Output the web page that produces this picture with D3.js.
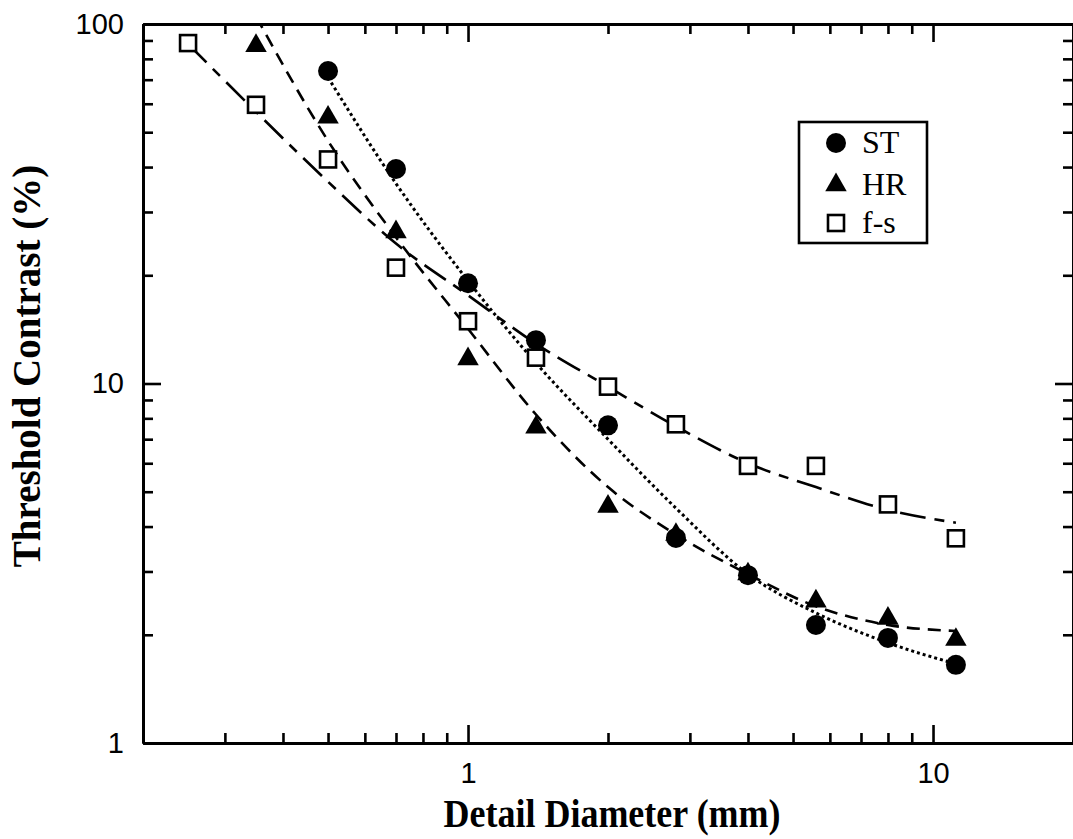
<!DOCTYPE html>
<html>
<head>
<meta charset="utf-8">
<script src="https://cdn.jsdelivr.net/npm/d3@7"></script>
<style>
  body { margin: 0; background: #fff; }
  svg { display: block; }
</style>
</head>
<body>
<div class="canvas"></div>
<script>
// values (Threshold contrast in %, diameter in mm)
var stDiam = [0.5, 0.7, 1.0, 1.4, 2.0, 2.8, 4.0, 5.6, 8.0, 11.2],
    stVals = [74, 39.5, 19, 13.2, 7.65, 3.72, 2.93, 2.13, 1.96, 1.65],
    stFit  = [71, 36, 19.3, 11.4, 7.0, 4.5, 2.95, 2.3, 1.9, 1.66];

var hrDiam = [0.35, 0.5, 0.7, 1.0, 1.4, 2.0, 2.8, 4.0, 5.6, 8.0, 11.2],
    hrVals = [87, 55, 26.4, 11.7, 7.55, 4.55, 3.8, 2.95, 2.48, 2.22, 1.94],
    hrFit  = [105, 47.3, 25.5, 14.2, 8.2, 5.15, 3.8, 2.95, 2.4, 2.13, 2.05];

var fsDiam = [0.25, 0.35, 0.5, 0.7, 1.0, 1.4, 2.0, 2.8, 4.0, 5.6, 8.0, 11.2],
    fsVals = [88.5, 59.6, 42, 21, 14.9, 11.8, 9.8, 7.7, 5.9, 5.9, 4.61, 3.71],
    fsFit  = [88, 57, 36.4, 24.5, 17.6, 12.9, 9.8, 7.6, 6.0, 5.15, 4.45, 4.1];

var seriesNames = ['ST', 'HR', 'f-s'];
var xMajor = [1, 10],
    yMajor = [1, 10, 100];
var xDomain = [0.2, 20],
    yDomain = [1, 100];

var width = 1073, height = 839,
    margin = {top: 24, right: 0, bottom: 96, left: 143},
    w = width - margin.left - margin.right,
    h = height - margin.top - margin.bottom;

var svg = d3.select('.canvas').append('svg')
    .attr('width', width)
    .attr('height', height);

var g = svg.append('g')
    .attr('transform', 'translate(' + margin.left + ',' + margin.top + ')');

var x = d3.scaleLog().domain(xDomain).range([0, w]),
    y = d3.scaleLog().domain(yDomain).range([h, 0]);

var xMinor = x.ticks().filter(function (d) { return xMajor.indexOf(d) < 0; }),
    yMinor = y.ticks().filter(function (d) { return yMajor.indexOf(d) < 0; });

var sans = '"Liberation Sans", Arial, sans-serif',
    serif = '"Liberation Serif", "Times New Roman", serif';

function styleAxis(sel) {
    sel.select('.domain').attr('stroke', '#000').attr('stroke-width', 3);
    sel.selectAll('.tick line').attr('stroke', '#000').attr('stroke-width', 2.6);
    sel.selectAll('.tick text')
        .attr('fill', '#000')
        .style('font-family', sans)
        .style('font-size', '29px');
}

// frame: ticks on all four sides pointing in
[
    {ax: d3.axisBottom(x), tr: 'translate(0,' + h + ')', minor: xMinor, major: xMajor, lab: true},
    {ax: d3.axisTop(x), tr: null, minor: xMinor, major: xMajor, lab: false},
    {ax: d3.axisLeft(y), tr: null, minor: yMinor, major: yMajor, lab: true},
    {ax: d3.axisRight(y), tr: 'translate(' + w + ',0)', minor: yMinor, major: yMajor, lab: false}
].forEach(function (a) {
    var gm = g.append('g').attr('transform', a.tr)
        .call(a.ax.tickValues(a.minor).tickSize(-10).tickSizeOuter(0).tickFormat(''));
    styleAxis(gm);
    var gM = g.append('g').attr('transform', a.tr)
        .call(a.ax.tickValues(a.major).tickSize(-18).tickSizeOuter(0)
            .tickPadding(19)
            .tickFormat(a.lab ? d3.format('d') : ''));
    styleAxis(gM);
});

// clip the fit curves to the plot box
svg.append('defs').append('clipPath').attr('id', 'plotclip')
    .append('rect').attr('width', w).attr('height', h);

var line = d3.line()
    .x(function (d) { return x(d[0]); })
    .y(function (d) { return y(d[1]); })
    .curve(d3.curveMonotoneX);

var series = [
    {name: seriesNames[0], diam: stDiam, vals: stVals, fit: stFit, dash: '3,3', width: 3, symbol: 'circle'},
    {name: seriesNames[1], diam: hrDiam, vals: hrVals, fit: hrFit, dash: '13,8', width: 2.6, symbol: 'triangle'},
    {name: seriesNames[2], diam: fsDiam, vals: fsVals, fit: fsFit, dash: '26,9,10,9', width: 2.6, symbol: 'square'}
];

var lines = g.append('g').attr('clip-path', 'url(#plotclip)');
series.forEach(function (s) {
    lines.append('path')
        .datum(d3.zip(s.diam, s.fit))
        .attr('d', line)
        .attr('fill', 'none')
        .attr('stroke', '#000')
        .attr('stroke-width', s.width)
        .attr('stroke-dasharray', s.dash);
});

function drawMarker(sel, kind) {
    if (kind === 'circle') {
        sel.append('circle').attr('r', 10).attr('fill', '#000');
    } else if (kind === 'triangle') {
        sel.append('path').attr('d', d3.symbol(d3.symbolTriangle, 200)()).attr('fill', '#000');
    } else {
        sel.append('rect').attr('x', -8).attr('y', -8).attr('width', 16).attr('height', 16)
            .attr('fill', '#fff').attr('stroke', '#000').attr('stroke-width', 2.6);
    }
}

series.forEach(function (s) {
    g.append('g').selectAll('g')
        .data(d3.zip(s.diam, s.vals))
        .enter()
        .append('g')
        .attr('transform', function (d) { return 'translate(' + x(d[0]) + ',' + y(d[1]) + ')'; })
        .each(function () { drawMarker(d3.select(this), s.symbol); });
});

// legend
var legend = svg.append('g').attr('transform', 'translate(799,122)');
legend.append('rect')
    .attr('width', 128).attr('height', 121)
    .attr('fill', '#fff').attr('stroke', '#000').attr('stroke-width', 2.6);
var legendY = [21, 63, 101];
series.forEach(function (s, i) {
    var item = legend.append('g').attr('transform', 'translate(37,' + legendY[i] + ')');
    drawMarker(item, s.symbol);
    item.append('text')
        .attr('x', 26).attr('y', 10)
        .style('font-family', serif)
        .style('font-size', '32px')
        .text(s.name);
});

// axis titles
svg.append('text')
    .attr('transform', 'translate(' + (margin.left + w / 2 + 4) + ',827) scale(1,1.12)')
    .attr('text-anchor', 'middle')
    .style('font-family', serif)
    .style('font-weight', 'bold')
    .style('font-size', '36px')
    .text('Detail Diameter (mm)');

svg.append('text')
    .attr('transform', 'translate(40,366) rotate(-90)')
    .attr('text-anchor', 'middle')
    .style('font-family', serif)
    .style('font-weight', 'bold')
    .style('font-size', '39px')
    .text('Threshold Contrast (%)');
</script>
</body>
</html>
